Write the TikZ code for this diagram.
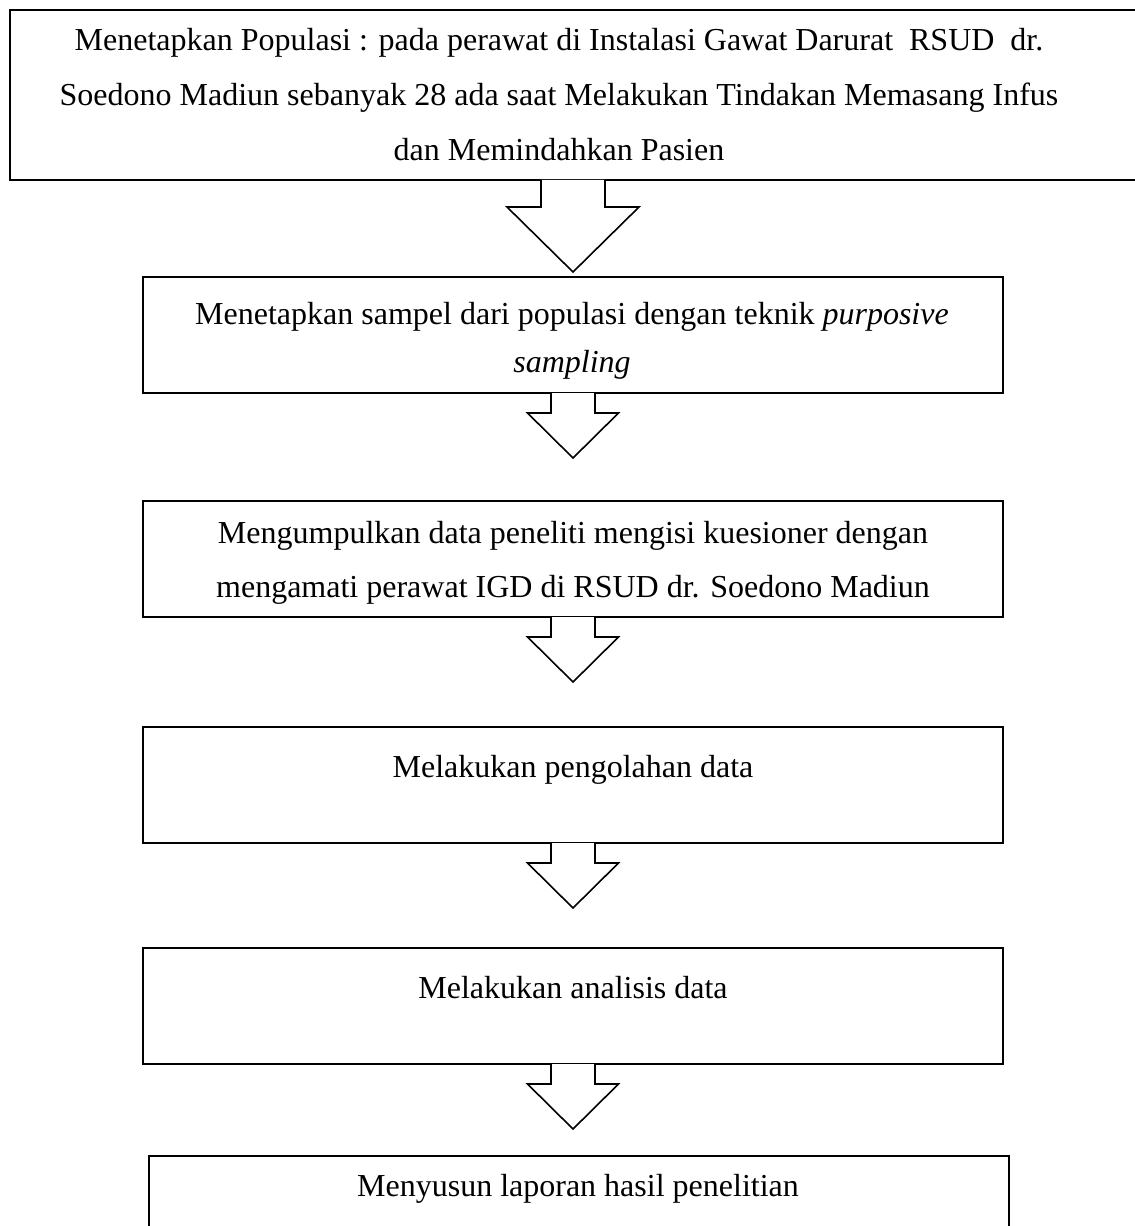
\documentclass[tikz,border=0pt]{standalone}
\usepackage{fontspec}
\setmainfont{Liberation Serif}
\usetikzlibrary{calc}

\tikzset{
  kotak/.style={draw,line width=1.5pt,inner sep=0pt,minimum width=645pt,minimum height=87pt},
  panah/.style={draw,fill=white,line width=1.2pt},
  baris/.style={anchor=base,inner sep=0pt,font=\fontsize{24}{29}\selectfont}
}

\begin{document}
\begin{tikzpicture}[x=0.75pt,y=-0.75pt]
  \useasboundingbox (0,0) rectangle (1134,1226);

  % kotak
  \draw (9,9) node[kotak,anchor=north west,minimum width=880pt,minimum height=127.5pt] (pop) {};
  \draw (573,335) node[kotak] (sampel) {};
  \draw (573,559) node[kotak] (kumpul) {};
  \draw (573,785) node[kotak] (olah) {};
  \draw (573,1006) node[kotak] (analisis) {};
  \draw (578.5,1214) node[kotak] (lapor) {};

  % teks
  \draw (559,51) node[baris] (pop1) {Menetapkan Populasi : pada perawat di Instalasi Gawat Darurat\ \ RSUD\ \ dr.}
  ++(0,55) node[baris] (pop2) {Soedono Madiun sebanyak 28 ada saat Melakukan Tindakan Memasang Infus}
  ++(0,55) node[baris] (pop3) {dan Memindahkan Pasien};

  \draw (572,325) node[baris] (sampel1) {Menetapkan sampel dari populasi dengan teknik \textit{purposive}}
  ++(0,48) node[baris] (sampel2) {\textit{sampling}};

  \draw (573,543) node[baris] (kumpul1) {Mengumpulkan data peneliti mengisi kuesioner dengan}
  ++(0,54) node[baris] (kumpul2) {mengamati perawat IGD di RSUD dr. Soedono Madiun};

  \draw (573,777) node[baris] (olah1) {Melakukan pengolahan data};
  \draw (573,998) node[baris] (analisis1) {Melakukan analisis data};
  \draw (578,1196) node[baris] (lapor1) {Menyusun laporan hasil penelitian};

  % panah
  \draw[panah] ($(pop.south -| sampel.north)+(-32,-1)$) -- ++(0,27) -- ++(-34,0)
    -- ++(66,65) -- ++(66,-65) -- ++(-34,0) -- ++(0,-27);

  \foreach \a in {sampel,kumpul,olah,analisis}
    \draw[panah] ($(\a.south)+(-22,-1)$) -- ++(0,20) -- ++(-23.5,0)
      -- ++(45.5,45) -- ++(45.5,-45) -- ++(-23.5,0) -- ++(0,-20);

\end{tikzpicture}
\end{document}
